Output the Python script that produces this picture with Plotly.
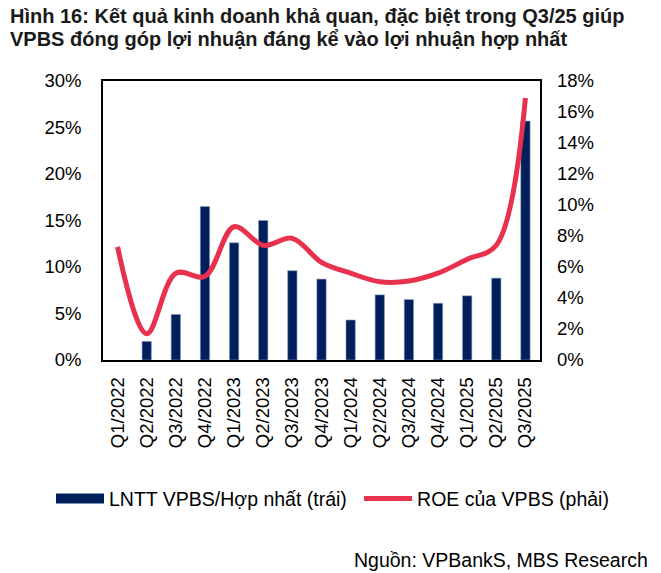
import plotly.graph_objects as go

quarters = ["Q1/2022", "Q2/2022", "Q3/2022", "Q4/2022", "Q1/2023", "Q2/2023", "Q3/2023",
            "Q4/2023", "Q1/2024", "Q2/2024", "Q3/2024", "Q4/2024", "Q1/2025", "Q2/2025", "Q3/2025"]
# LNTT VPBS / hop nhat (%), left axis
lntt_share = [None, 2.0, 4.9, 16.5, 12.6, 15.0, 9.6, 8.7, 4.3, 7.0, 6.5, 6.1, 6.9, 8.8, 25.7]
# ROE cua VPBS (%), right axis
roe_vpbs = [7.3, 1.7, 5.6, 5.4, 8.6, 7.4, 7.85, 6.3, 5.6, 5.05, 5.1, 5.6, 6.5, 7.4, 16.9]

left_ticks = [0, 5, 10, 15, 20, 25, 30]
right_ticks = [0, 2, 4, 6, 8, 10, 12, 14, 16, 18]

title_lines = ["Hình 16: Kết quả kinh doanh khả quan, đặc biệt trong Q3/25 giúp",
               "VPBS đóng góp lợi nhuận đáng kể vào lợi nhuận hợp nhất"]
source_text = "Nguồn: VPBankS, MBS Research"

FONT = "Liberation Sans, Arial, sans-serif"
NAVY = "#001F5B"
RED = "#E8304F"

fig = go.Figure()
fig.add_trace(go.Bar(x=quarters, y=lntt_share, name="LNTT VPBS/Hợp nhất (trái)", showlegend=False,
                     marker=dict(color=NAVY, line=dict(color="#8A9CC0", width=0.6)), width=0.32))
# legend-only entry so the swatch is a wide navy block like the original
fig.add_trace(go.Scatter(x=[None], y=[None], name="LNTT VPBS/Hợp nhất (trái)", mode="lines",
                         line=dict(color=NAVY, width=12), legend="legend"))
fig.add_trace(go.Scatter(x=quarters, y=roe_vpbs, name="ROE của VPBS (phải)", yaxis="y2",
                         mode="lines", line=dict(color=RED, width=5, shape="spline", smoothing=1.0),
                         legend="legend2"))

legend_style = dict(orientation="h", xanchor="left", y=-0.498, yanchor="middle",
                    font=dict(size=19.5), itemwidth=48, bgcolor="rgba(0,0,0,0)")

# page body has an 8px margin, so the figure is 8px smaller than the window
fig.update_layout(
    width=653, height=565,
    margin=dict(l=95, r=121, t=73, b=213),
    paper_bgcolor="white", plot_bgcolor="white",
    font=dict(family=FONT, size=18.5, color="black"),
    bargap=0.68,
    showlegend=True,
    legend=dict(x=-0.119, **legend_style),
    legend2=dict(x=0.586, **legend_style),
)
fig.update_xaxes(showline=True, linecolor="black", linewidth=1.5, mirror=True,
                 tickangle=-90, tickfont=dict(size=18.5), ticks="", showgrid=False,
                 ticklabelstandoff=8)
fig.update_layout(
    yaxis=dict(range=[0, 30], tickvals=left_ticks, ticktext=[f"{v}%" for v in left_ticks],
               showline=True, linecolor="black", linewidth=1.5, mirror=True,
               showgrid=False, zeroline=False, ticks="", ticklabelstandoff=16),
    yaxis2=dict(range=[0, 18], tickvals=right_ticks, ticktext=[f"{v}%" for v in right_ticks],
                overlaying="y", side="right", showgrid=False, zeroline=False, ticks="",
                showline=False, ticklabelstandoff=16),
)
for line, ypos in zip(title_lines, [1.2330, 1.152]):
    fig.add_annotation(text=f"<b>{line}</b>", xref="paper", yref="paper", x=-0.2174, y=ypos,
                       xanchor="left", yanchor="middle", showarrow=False,
                       font=dict(size=20, color="#1a1a1a"))
fig.add_annotation(text=source_text, xref="paper", yref="paper",
                   x=1.252, y=-0.717, xanchor="right", yanchor="middle", showarrow=False,
                   font=dict(size=19.5, color="black"))

fig.write_html("out.html")
